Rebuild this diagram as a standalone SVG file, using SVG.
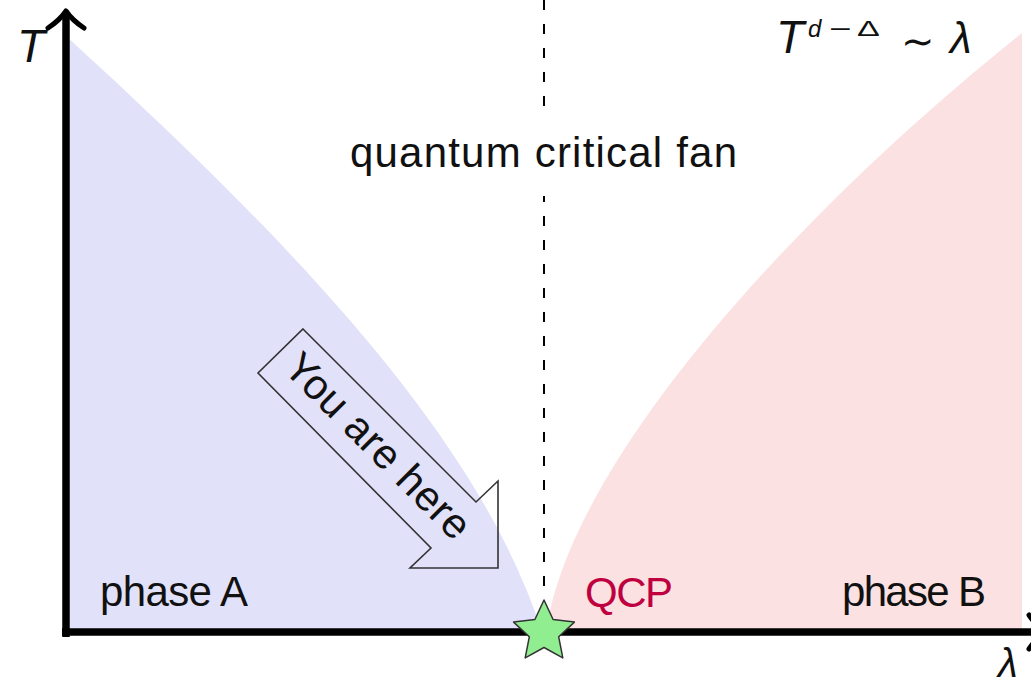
<svg xmlns="http://www.w3.org/2000/svg" width="1031" height="688" viewBox="0 0 1031 688">
  <style>
    .lbl { font-family: "Liberation Sans", Arial, sans-serif; font-size: 42px; fill: #111; }
    .math { font-family: "Liberation Sans", Arial, sans-serif; fill: #111; font-style: italic; }
    .up { font-family: "Liberation Sans", Arial, sans-serif; fill: #111; }
    .axis { stroke: #000; stroke-width: 7.5; fill: none; }
    .head { stroke: #000; stroke-width: 5; fill: none; stroke-linecap: round; stroke-linejoin: round; }
  </style>
  <rect x="0" y="0" width="1031" height="688" fill="#ffffff"/>

  <g id="phase-a-region">
    <path d="M66,36 C300,250 480,440 542,632 L66,632 Z" fill="#e1e1f9"/>
  </g>
  <g id="phase-b-region">
    <path d="M546,632 C570,460 800,210 1022,33 L1022,632 Z" fill="#fbe1e1"/>
  </g>

  <g id="connectors">
    <line x1="544" y1="0" x2="544" y2="598" stroke="#000" stroke-width="2" stroke-dasharray="10 14"/>
    <line class="axis" x1="66" y1="637" x2="66" y2="14"/>
    <path class="head" d="M48,28 Q60,20 66,11 Q72,20 84,28"/>
    <line class="axis" x1="62" y1="632" x2="1040" y2="632"/>
    <path class="head" d="M1029,615 Q1037,627 1046,632 Q1037,637 1029,649"/>
  </g>

  <g id="qcp-star">
    <polygon points="544,600 553.1,619.5 574.4,622.1 558.7,636.8 562.8,657.9 544,647.5 525.2,657.9 529.3,636.8 513.6,622.1 534.9,619.5" fill="#90ee90" stroke="#333" stroke-width="1.5" stroke-linejoin="round"/>
  </g>

  <g id="you-are-here">
    <polygon points="303,329 476,502 498,481 498,568 410,568 431,548 258,373" fill="none" stroke="#333" stroke-width="1.6" stroke-linejoin="miter"/>
    <text class="lbl" transform="translate(368,456) rotate(45)" text-anchor="middle" textLength="244" lengthAdjust="spacing">You are here</text>
  </g>

  <g id="labels">
    <rect x="342" y="118" width="402" height="78" fill="#ffffff"/>
    <text class="lbl" x="543.5" y="167" text-anchor="middle" textLength="387" lengthAdjust="spacing">quantum critical fan</text>
    <text class="lbl" x="100" y="606" textLength="148" lengthAdjust="spacing">phase A</text>
    <text class="lbl" x="842" y="606" textLength="144" lengthAdjust="spacing">phase B</text>
    <text class="lbl" x="585" y="607" textLength="88" lengthAdjust="spacing" style="fill:#bf0040">QCP</text>
  </g>

  <g id="axis-labels">
    <text class="math" x="17" y="62" font-size="46">T</text>
    <text class="math" x="998" y="677" font-size="40">λ</text>
  </g>

  <g id="scaling-law">
    <text class="math" x="776" y="53" font-size="46">T</text>
    <text class="math" x="808" y="37" font-size="24">d</text>
    <text class="up" x="0" y="0" font-size="24" transform="translate(829,37) scale(1.6,1)">−</text>
    <text class="up" x="0" y="0" font-size="22" transform="translate(857,36) scale(1.55,1)">Δ</text>
    <text x="901" y="55" font-size="40" style="font-family:'DejaVu Sans',sans-serif;fill:#111">∼</text>
    <text class="math" x="950" y="53" font-size="44">λ</text>
  </g>
</svg>
